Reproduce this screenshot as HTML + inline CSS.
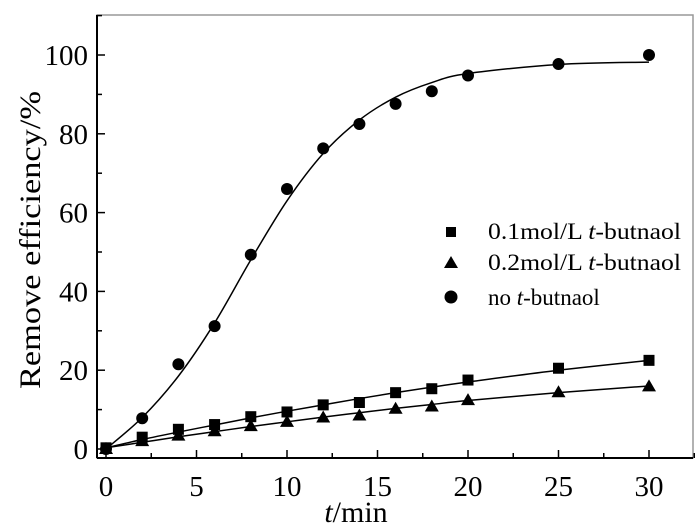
<!DOCTYPE html>
<html><head><meta charset="utf-8"><style>
html,body{margin:0;padding:0;background:#fff;}
svg{display:block;}
</style></head><body>
<svg width="700" height="529" viewBox="0 0 700 529" xmlns="http://www.w3.org/2000/svg">
<rect x="97" y="15" width="596" height="443" fill="none" stroke="#999" stroke-width="1.5"/>
<g id="axes"></g>
<g id="series"></g>
<text x="40" y="240" transform="rotate(-90 40 240)" text-anchor="middle" font-family="Liberation Serif, serif" font-size="30" textLength="298" lengthAdjust="spacingAndGlyphs">Remove efficiency/%</text>
<text x="356" y="522" text-anchor="middle" font-family="Liberation Serif, serif" font-size="30"><tspan font-style="italic">t</tspan>/min</text>
<g font-family="Liberation Serif, serif" font-size="23">
 <rect x="446" y="227" width="10" height="10" fill="#000"/>
 <text x="488" y="239" textLength="193" lengthAdjust="spacingAndGlyphs">0.1mol/L <tspan font-style="italic">t</tspan>-butnaol</text>
 <polygon points="451,256 458,268 444,268" fill="#000"/>
 <text x="488" y="270" textLength="193" lengthAdjust="spacingAndGlyphs">0.2mol/L <tspan font-style="italic">t</tspan>-butnaol</text>
 <circle cx="451" cy="297" r="6.5" fill="#000"/>
 <text x="488" y="305">no <tspan font-style="italic">t</tspan>-butnaol</text>
</g>
</svg>
<script>
const times = [0,2,4,6,8,10,12,14,16,18,20,25,30];
const noButanol = [0,7.8,21.5,31.2,49.3,66,76.3,82.5,87.6,90.8,94.8,97.7,100];
const butanol01 = [0.3,3,5,6.2,8.2,9.4,11.2,11.8,14.3,15.3,17.5,20.5,22.5];
const butanol02 = [0,2,3.4,4.5,5.8,6.9,8,8.5,10.2,10.8,12.4,14.4,15.9];
const fitNo = [0,8,18.5,32,48,63,75,83.5,89.3,93,95.3,97.6,98.2];
const fit01 = [0.3,2.4,4.3,6.1,7.9,9.6,11.2,12.8,14.3,15.7,17,20,22.5];
const fit02 = [0.3,1.7,3.1,4.4,5.7,6.9,8.1,9.2,10.3,11.3,12.3,14.3,16];
const xTicks = [0,5,10,15,20,25,30];
const yTicks = [0,20,40,60,80,100];
const NS='http://www.w3.org/2000/svg';
const X = t => 106 + 18.1*t;
const Y = v => 449 - 3.94*v;
const axes=document.getElementById('axes'), ser=document.getElementById('series');
function mk(tag, attrs, parent){const e=document.createElementNS(NS,tag);for(const k in attrs)e.setAttribute(k,attrs[k]);parent.appendChild(e);return e;}
let ax=mk('line',{x1:97,y1:458,x2:693,y2:458,stroke:'#000','stroke-width':2},axes);


ax=mk('line',{x1:97,y1:15,x2:97,y2:458,stroke:'#000','stroke-width':2},axes);


for(let t=0;t<=32.5;t+=2.5){
  const major = t%5===0;
  const l=mk('line',{x1:X(t),x2:X(t),y1:458,y2:458-(major?8:5),stroke:'#000','stroke-width':1.5},axes);
  
  
}
xTicks.forEach(t=>{
  const tx=mk('text',{x:X(t),y:496,'text-anchor':'middle','font-family':'Liberation Serif, serif','font-size':29},axes);
  tx.textContent=t;
  
  
});
for(let v=0;v<=110;v+=10){
  const major=v%20===0;
  const l=mk('line',{x1:97,x2:97+(major?8:5),y1:Y(v),y2:Y(v),stroke:'#000','stroke-width':1.5},axes);
  
  
}
yTicks.forEach(v=>{
  const tx=mk('text',{x:88,y:Y(v)+10,'text-anchor':'end','font-family':'Liberation Serif, serif','font-size':29},axes);
  tx.textContent=v;
  
  
});
function smooth(vals){
  const p=times.map((t,i)=>[X(t),Y(vals[i])]);
  let d='M'+p[0][0]+','+p[0][1];
  for(let i=0;i<p.length-1;i++){
    const p0=p[Math.max(0,i-1)],p1=p[i],p2=p[i+1],p3=p[Math.min(p.length-1,i+2)];
    const c1=[p1[0]+(p2[0]-p0[0])/6,p1[1]+(p2[1]-p0[1])/6];
    const c2=[p2[0]-(p3[0]-p1[0])/6,p2[1]-(p3[1]-p1[1])/6];
    d+=' C'+c1+' '+c2+' '+p2;
  }
  return d;
}
[[fitNo,'fit-no-butanol'],[fit01,'fit-0.1-butanol'],[fit02,'fit-0.2-butanol']].forEach(([v,n])=>{
  const path=mk('path',{d:smooth(v),fill:'none',stroke:'#000','stroke-width':1.5},ser);
  
  
});
times.forEach((t,i)=>{
  const s=mk('rect',{x:X(t)-5.5,y:Y(butanol01[i])-5.5,width:11,height:11,fill:'#000'},ser);
  
  
  const x=X(t),y=Y(butanol02[i]);
  const tr=mk('polygon',{points:`${x},${y-7} ${x+7},${y+5} ${x-7},${y+5}`,fill:'#000'},ser);
  
  
  const c=mk('circle',{cx:X(t),cy:Y(noButanol[i]),r:6,fill:'#000'},ser);
  
  
});
</script>
</body></html>
